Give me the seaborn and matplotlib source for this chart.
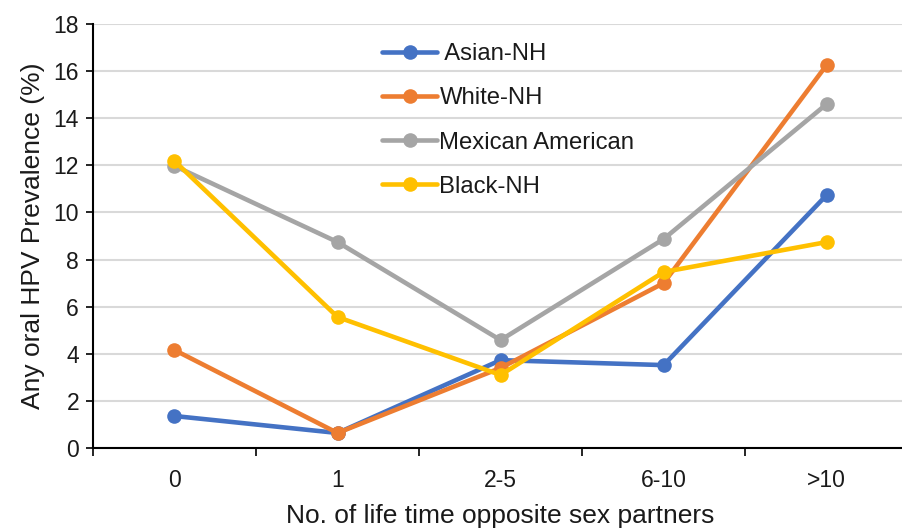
import numpy as np
import pandas as pd
import matplotlib
matplotlib.use("Agg")
import matplotlib.pyplot as plt
import seaborn as sns
from matplotlib.ticker import FixedLocator

categories = ["0", "1", "2-5", "6-10", ">10"]
asian_nh = [1.36, 0.64, 3.73, 3.52, 10.74]
white_nh = [4.16, 0.64, 3.40, 7.00, 16.26]
mexican_american = [11.97, 8.74, 4.58, 8.87, 14.60]
black_nh = [12.18, 5.56, 3.10, 7.47, 8.74]
series_names = [" Asian-NH", "White-NH", "Mexican American", "Black-NH"]
colors = ["#4472C4", "#ED7D31", "#A5A5A5", "#FFC000"]

df = pd.concat([
    pd.DataFrame({"partners": categories, "prev": vals, "group": name})
    for name, vals in zip(series_names, [asian_nh, white_nh, mexican_american, black_nh])
], ignore_index=True)

sns.set_theme(style="white")
plt.rcParams["font.family"] = ["Liberation Sans", "DejaVu Sans"]

fig = plt.figure(figsize=(9.02, 5.29), dpi=100)
ax = fig.add_axes([0.103, 0.153, 0.904, 0.802])

sns.lineplot(data=df, x="partners", y="prev", hue="group", hue_order=series_names,
             palette=colors, marker="o", markersize=10.5, markeredgewidth=0,
             linewidth=3.3, sort=False, ax=ax)

ax.set_xlim(-0.5, 4.5)
ax.set_ylim(0, 18)
ax.set_yticks(np.arange(0, 19, 2))
ax.yaxis.grid(True, color="#D9D9D9", linewidth=1.5)
ax.set_axisbelow(True)
ax.set_xticks(range(len(categories)))
ax.set_xticklabels(categories)
ax.xaxis.set_minor_locator(FixedLocator(np.arange(-0.5, 5.0, 1.0)))
ax.tick_params(axis="x", which="major", length=0, pad=15, labelsize=16.5, colors="#1a1a1a")
ax.tick_params(axis="x", which="minor", length=6, width=1.2, direction="out", bottom=True, color="#000000")
ax.tick_params(axis="y", length=5, width=1.2, direction="out", left=True, labelsize=16.5, pad=5)
ax.tick_params(axis="y", colors="#000000", labelcolor="#1a1a1a")

for s in ["top", "right"]:
    ax.spines[s].set_visible(False)
for s in ["left", "bottom"]:
    ax.spines[s].set_color("#000000")
    ax.spines[s].set_linewidth(1.5)

ax.set_xlabel("No. of life time opposite sex partners", fontsize=19, color="#1a1a1a", labelpad=9)
ax.set_ylabel("Any oral HPV Prevalence (%)", fontsize=19, color="#1a1a1a", labelpad=6)

leg = ax.legend(loc="upper left", bbox_to_anchor=(0.343, 0.977), frameon=False,
                fontsize=17.2, handlelength=2.3, handletextpad=0.1, labelspacing=0.93,
                borderaxespad=0)
for t in leg.get_texts():
    t.set_color("#1a1a1a")

fig.savefig("out.png", dpi=100)
